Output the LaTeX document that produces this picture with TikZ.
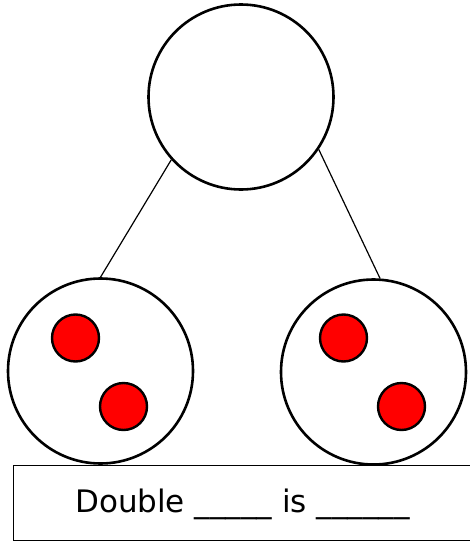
\documentclass[tikz,border=0pt]{standalone}
\usepackage{fontspec}
\setmainfont{DejaVu Sans}
\begin{document}
\begin{tikzpicture}[x=1pt,y=-1pt,
  bigcircle/.style={circle,draw=black,line width=2.6pt,fill=white,minimum size=185pt,inner sep=0pt},
  dot/.style={circle,draw=black,line width=2.4pt,fill=red,minimum size=47pt,inner sep=0pt},
  link/.style={draw=black,line width=1.2pt},
  answerbox/.style={draw=black,line width=1.4pt,minimum width=470pt,minimum height=75pt,inner sep=0pt}]
\useasboundingbox (0,0) rectangle (469,541);
\node[bigcircle] (top) at (241,97) {};
\node[bigcircle] (left) at (100.5,371) {};
\node[bigcircle] (right) at (373.5,372) {};
\node[dot] (l1) at (75.5,338) {};
\node[dot] (l2) at (123.5,406.5) {};
\node[dot] (r1) at (343.5,338) {};
\node[dot] (r2) at (401.5,406.5) {};
\draw[link] (top.222) -- (left.90);
\draw[link] (top.326) -- (right.86);
\node[answerbox,anchor=north west] (box) at (12.5,465) {};
\node[anchor=base west,inner sep=0pt,font=\fontsize{31}{34}\selectfont] (txt) at (75,512) {Double \_\_\_\_\_ is \_\_\_\_\_\_};
\end{tikzpicture}
\end{document}
